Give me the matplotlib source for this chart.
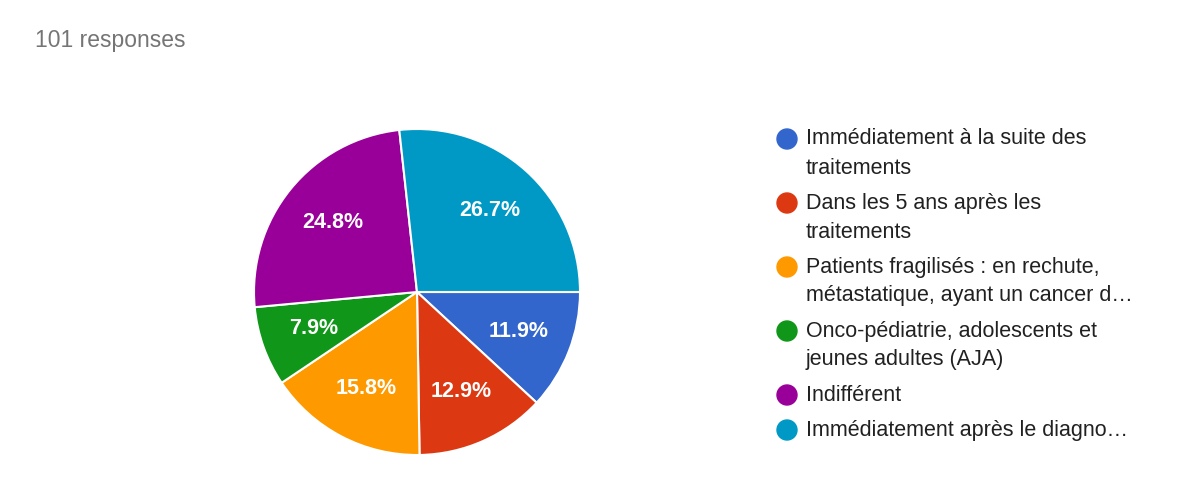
import matplotlib.pyplot as plt

# answers, in the order Google Forms draws them (clockwise from 3 o'clock)
labels = [
    ['Immédiatement à la suite des', 'traitements'],
    ['Dans les 5 ans après les', 'traitements'],
    ['Patients fragilisés : en rechute,', 'métastatique, ayant un cancer d…'],
    ['Onco-pédiatrie, adolescents et', 'jeunes adultes (AJA)'],
    ['Indifférent'],
    ['Immédiatement après le diagno…'],
]
counts = [12, 13, 16, 8, 25, 27]
colors = ['#3366CC', '#DC3912', '#FF9900', '#109618', '#990099', '#0099C6']
total = 101

W, H = 1200, 494
fig = plt.figure(figsize=(W / 100, H / 100), dpi=100)

fig.text(35 / W, 1 - 40 / H, f'{total} responses', color='#757575',
         fontsize=16.5, family='Liberation Sans', va='center', ha='left')

# pie: centre (417, 292) px, radius 163 px
r = 163
ax = fig.add_axes([(417 - r) / W, (H - 292 - r) / H, 2 * r / W, 2 * r / H])
wedges, _, autotexts = ax.pie(
    counts, colors=colors, startangle=0, counterclock=False,
    autopct='%1.1f%%', pctdistance=0.67,
    wedgeprops=dict(edgecolor='white', linewidth=1.5),
    textprops=dict(color='white', fontsize=15.5, fontweight='bold',
                   family='Liberation Sans'))
ax.set_xlim(-1, 1)
ax.set_ylim(-1, 1)
ax.set_aspect('equal')
ax.axis('off')

# legend drawn by hand so it wraps like the original
y = 139
for lines, col in zip(labels, colors):
    fig.patches.append(plt.Circle((787, H - y), 10, color=col,
                                  transform=None, figure=fig))
    for i, line in enumerate(lines):
        fig.text(806 / W, 1 - (y + 29 * i) / H, line, color='#212121',
                 fontsize=15.5, family='Liberation Sans', va='center',
                 ha='left')
    y += 29 * (len(lines) - 1) + 35

fig.savefig('out.png', dpi=100, facecolor='white')
